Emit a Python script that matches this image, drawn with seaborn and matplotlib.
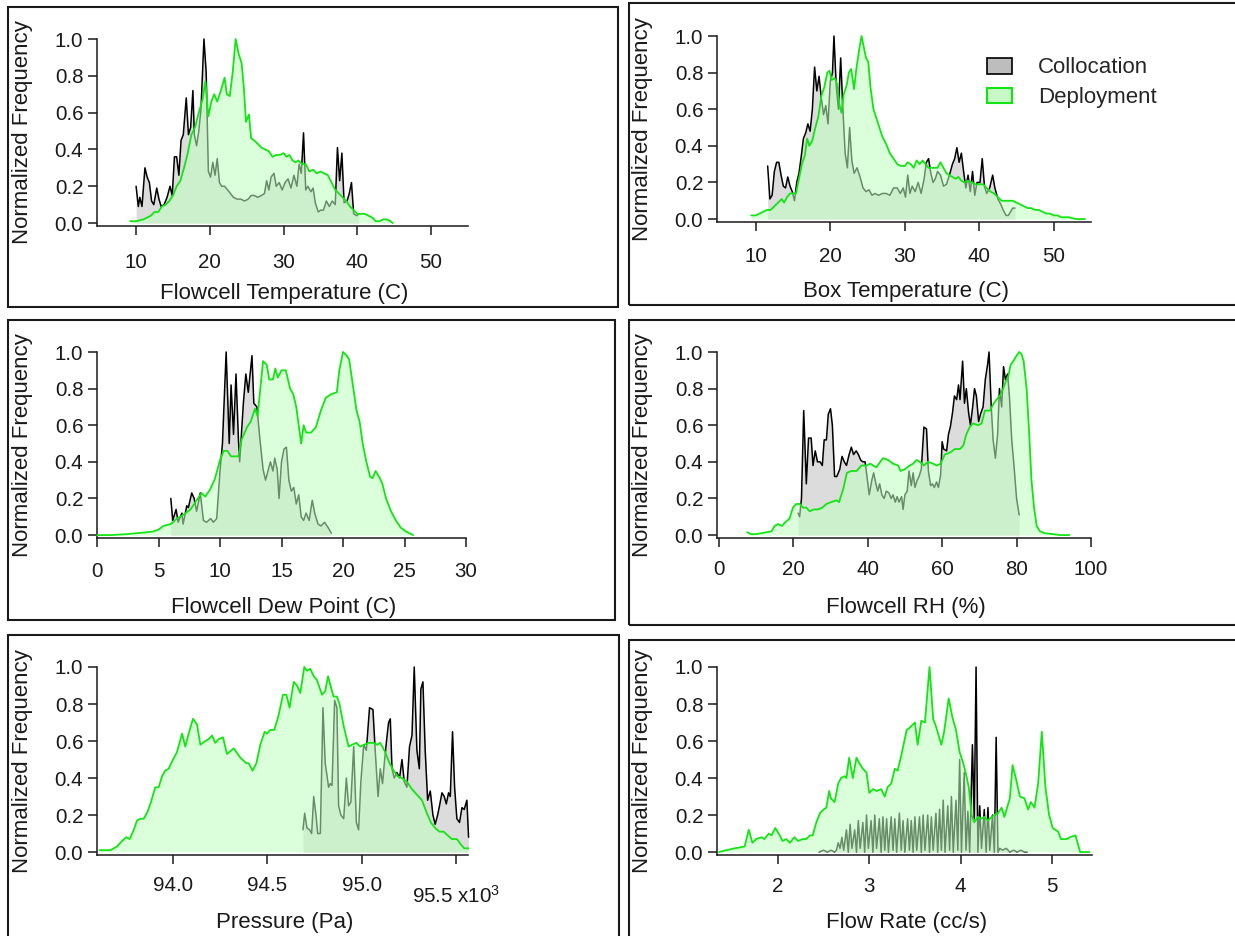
import matplotlib
matplotlib.use("Agg")
import matplotlib.pyplot as plt
from matplotlib.patches import Rectangle, Patch
from matplotlib.transforms import ScaledTranslation
import seaborn as sns

sns.set_theme(style="ticks")
plt.rcParams["font.family"] = ["Liberation Sans", "DejaVu Sans"]
plt.rcParams["mathtext.fontset"] = "custom"
plt.rcParams["mathtext.rm"] = "Liberation Sans"
plt.rcParams["mathtext.it"] = "Liberation Sans:italic"

# ---------------------------------------------------------------------------
# Normalized histograms: (bin value, normalized frequency)
# ---------------------------------------------------------------------------
flowcell_temp_collocation = [
    (10.0, 0.20), (10.3, 0.09), (10.5, 0.14), (10.8, 0.09), (11.2, 0.30), (11.5, 0.25),
    (11.8, 0.22), (12.1, 0.12), (12.4, 0.10), (12.8, 0.19), (13.1, 0.13), (13.4, 0.09),
    (13.8, 0.10), (14.2, 0.14), (14.6, 0.20), (14.9, 0.15), (15.2, 0.36), (15.5, 0.36),
    (15.8, 0.26), (16.1, 0.45), (16.4, 0.48), (16.8, 0.68), (17.1, 0.48), (17.4, 0.52),
    (17.7, 0.72), (17.9, 0.48), (18.2, 0.42), (18.5, 0.50), (18.8, 0.62), (19.2, 1.00),
    (19.5, 0.82), (19.8, 0.28), (20.1, 0.25), (20.4, 0.33), (20.7, 0.26), (21.0, 0.35),
    (21.3, 0.22), (21.6, 0.20), (22.0, 0.20), (22.4, 0.18), (22.8, 0.16), (23.2, 0.14),
    (23.7, 0.13), (24.2, 0.13), (24.7, 0.12), (25.2, 0.13), (25.6, 0.15), (26.0, 0.15),
    (26.5, 0.14), (27.0, 0.15), (27.4, 0.16), (27.7, 0.23), (28.0, 0.18), (28.3, 0.25),
    (28.7, 0.27), (29.0, 0.20), (29.4, 0.22), (29.8, 0.18), (30.2, 0.22), (30.6, 0.24),
    (31.0, 0.19), (31.4, 0.26), (31.8, 0.20), (32.1, 0.32), (32.4, 0.27), (32.7, 0.49),
    (33.0, 0.18), (33.3, 0.20), (33.7, 0.17), (34.0, 0.19), (34.3, 0.11), (34.7, 0.06),
    (35.0, 0.07), (35.4, 0.07), (35.8, 0.12), (36.2, 0.09), (36.6, 0.12), (37.0, 0.10),
    (37.3, 0.41), (37.6, 0.23), (37.9, 0.38), (38.2, 0.11), (38.6, 0.12), (38.9, 0.16),
    (39.2, 0.22), (39.5, 0.05), (39.9, 0.04), (40.2, 0.05),
]
flowcell_temp_deployment = [
    (9.2, 0.01), (10.0, 0.01), (11.0, 0.02), (12.0, 0.04), (12.5, 0.06), (13.0, 0.06),
    (13.5, 0.09), (14.0, 0.10), (14.5, 0.12), (15.0, 0.15), (15.5, 0.20), (16.0, 0.23),
    (16.5, 0.30), (17.0, 0.38), (17.5, 0.48), (18.0, 0.52), (18.5, 0.60), (19.0, 0.67),
    (19.4, 0.77), (19.8, 0.58), (20.2, 0.66), (20.6, 0.70), (21.0, 0.66), (21.5, 0.72),
    (22.0, 0.79), (22.3, 0.70), (22.7, 0.69), (23.1, 0.82), (23.5, 1.00), (23.9, 0.92),
    (24.3, 0.87), (24.6, 0.74), (24.9, 0.55), (25.3, 0.59), (25.6, 0.46), (26.0, 0.45),
    (26.5, 0.43), (27.0, 0.41), (27.5, 0.40), (28.0, 0.39), (28.5, 0.36), (29.0, 0.37),
    (29.5, 0.37), (30.0, 0.38), (30.4, 0.36), (30.8, 0.37), (31.2, 0.34), (31.6, 0.33),
    (32.0, 0.34), (32.5, 0.32), (33.0, 0.32), (33.5, 0.28), (34.0, 0.29), (34.5, 0.27),
    (35.0, 0.28), (35.5, 0.27), (36.0, 0.26), (36.5, 0.22), (37.0, 0.18), (37.5, 0.16),
    (38.0, 0.14), (38.5, 0.12), (39.0, 0.09), (39.5, 0.07), (40.0, 0.05), (40.5, 0.05),
    (41.0, 0.05), (41.5, 0.04), (42.0, 0.03), (42.5, 0.01), (43.0, 0.01), (43.5, 0.02),
    (44.0, 0.02), (44.5, 0.01), (44.8, 0.00),
]

box_temp_collocation = [
    (11.6, 0.29), (11.9, 0.11), (12.2, 0.13), (12.5, 0.26), (12.8, 0.31), (13.1, 0.31),
    (13.4, 0.24), (13.7, 0.18), (14.0, 0.17), (14.3, 0.23), (14.6, 0.18), (14.9, 0.15),
    (15.2, 0.10), (15.5, 0.20), (15.8, 0.25), (16.1, 0.34), (16.4, 0.44), (16.7, 0.47),
    (17.0, 0.52), (17.3, 0.48), (17.6, 0.60), (17.9, 0.83), (18.2, 0.70), (18.5, 0.78),
    (18.8, 0.66), (19.1, 0.57), (19.4, 0.62), (19.7, 0.52), (20.0, 0.75), (20.3, 0.80),
    (20.5, 1.00), (20.8, 0.73), (21.1, 0.60), (21.4, 0.88), (21.7, 0.60), (22.0, 0.36),
    (22.3, 0.28), (22.6, 0.50), (22.9, 0.32), (23.2, 0.25), (23.6, 0.28), (24.0, 0.23),
    (24.4, 0.17), (24.8, 0.15), (25.2, 0.16), (25.6, 0.13), (26.0, 0.14), (26.5, 0.13),
    (27.0, 0.14), (27.5, 0.14), (28.0, 0.13), (28.5, 0.17), (29.0, 0.17), (29.4, 0.14),
    (29.8, 0.17), (30.1, 0.12), (30.4, 0.24), (30.7, 0.14), (31.0, 0.18), (31.4, 0.15),
    (31.8, 0.20), (32.2, 0.14), (32.6, 0.22), (32.9, 0.31), (33.2, 0.33), (33.5, 0.25),
    (33.8, 0.20), (34.1, 0.22), (34.4, 0.26), (34.8, 0.24), (35.2, 0.18), (35.6, 0.19),
    (36.0, 0.24), (36.4, 0.30), (36.7, 0.33), (37.0, 0.39), (37.3, 0.31), (37.6, 0.36),
    (37.9, 0.26), (38.2, 0.17), (38.5, 0.24), (38.8, 0.15), (39.1, 0.26), (39.4, 0.13),
    (39.7, 0.20), (40.1, 0.20), (40.4, 0.33), (40.7, 0.18), (41.0, 0.14), (41.4, 0.17),
    (41.8, 0.24), (42.1, 0.17), (42.5, 0.11), (42.9, 0.08), (43.2, 0.05), (43.6, 0.02),
    (43.9, 0.02), (44.2, 0.04), (44.5, 0.06), (44.8, 0.06),
]
box_temp_deployment = [
    (9.4, 0.02), (10.0, 0.02), (10.5, 0.03), (11.0, 0.04), (11.5, 0.05), (12.0, 0.05),
    (12.5, 0.07), (13.0, 0.09), (13.5, 0.11), (13.8, 0.09), (14.2, 0.12), (14.6, 0.14),
    (15.0, 0.14), (15.4, 0.14), (15.8, 0.22), (16.2, 0.30), (16.6, 0.35), (16.9, 0.44),
    (17.2, 0.40), (17.6, 0.43), (18.0, 0.50), (18.4, 0.56), (18.8, 0.67), (19.2, 0.72),
    (19.6, 0.80), (19.9, 0.81), (20.2, 0.76), (20.6, 0.77), (20.9, 0.74), (21.2, 0.63),
    (21.5, 0.58), (21.8, 0.68), (22.2, 0.73), (22.5, 0.80), (22.8, 0.82), (23.2, 0.71),
    (23.5, 0.82), (23.9, 0.93), (24.2, 1.00), (24.5, 0.94), (24.8, 0.88), (25.1, 0.86),
    (25.4, 0.72), (25.8, 0.60), (26.2, 0.55), (26.6, 0.50), (27.0, 0.45), (27.5, 0.41),
    (28.0, 0.36), (28.5, 0.33), (29.0, 0.30), (29.5, 0.29), (30.0, 0.29), (30.4, 0.31),
    (30.8, 0.30), (31.2, 0.28), (31.6, 0.32), (32.0, 0.30), (32.4, 0.32), (32.8, 0.30),
    (33.2, 0.28), (33.6, 0.28), (34.0, 0.28), (34.4, 0.28), (34.8, 0.31), (35.2, 0.28),
    (35.6, 0.25), (36.0, 0.24), (36.4, 0.23), (36.8, 0.22), (37.2, 0.23), (37.6, 0.21),
    (38.0, 0.20), (38.5, 0.21), (39.0, 0.20), (39.5, 0.19), (40.0, 0.19), (40.5, 0.19),
    (41.0, 0.17), (41.5, 0.15), (42.0, 0.14), (42.5, 0.12), (43.0, 0.10), (43.5, 0.10),
    (44.0, 0.10), (44.5, 0.10), (45.0, 0.09), (45.5, 0.08), (46.0, 0.07), (46.5, 0.06),
    (47.0, 0.06), (47.5, 0.05), (48.0, 0.05), (48.5, 0.04), (49.0, 0.03), (49.5, 0.03),
    (50.0, 0.02), (50.5, 0.02), (51.0, 0.01), (52.0, 0.01), (53.0, 0.00), (54.2, 0.00),
]

dew_point_collocation = [
    (6.0, 0.20), (6.16, 0.08), (6.43, 0.14), (6.6, 0.07), (6.9, 0.12), (7.0, 0.06),
    (7.3, 0.16), (7.43, 0.15), (7.7, 0.23), (7.9, 0.20), (8.1, 0.13), (8.4, 0.23),
    (8.65, 0.08), (8.9, 0.07), (9.25, 0.09), (9.46, 0.07), (9.73, 0.09), (10.0, 0.35),
    (10.2, 0.50), (10.5, 1.00), (10.75, 0.50), (10.9, 0.82), (11.1, 0.55), (11.3, 0.88),
    (11.5, 0.52), (11.6, 0.40), (11.9, 0.72), (12.1, 0.88), (12.3, 0.78), (12.6, 0.98),
    (12.75, 0.72), (13.0, 0.70), (13.25, 0.52), (13.5, 0.36), (13.7, 0.30), (13.9, 0.35),
    (14.1, 0.40), (14.3, 0.35), (14.45, 0.42), (14.65, 0.36), (14.8, 0.20), (15.0, 0.40),
    (15.2, 0.47), (15.4, 0.48), (15.6, 0.30), (15.8, 0.24), (16.0, 0.26), (16.2, 0.17),
    (16.4, 0.22), (16.6, 0.10), (16.8, 0.08), (17.0, 0.12), (17.25, 0.08), (17.5, 0.19),
    (17.7, 0.12), (17.97, 0.06), (18.2, 0.05), (18.5, 0.07), (18.8, 0.04), (19.05, 0.01),
]
dew_point_deployment = [
    (0.0, 0.00), (1.1, 0.00), (2.4, 0.005), (3.2, 0.01), (4.0, 0.015), (4.6, 0.02),
    (5.0, 0.03), (5.4, 0.05), (6.0, 0.06), (6.5, 0.09), (7.0, 0.11), (7.6, 0.14),
    (8.1, 0.19), (8.5, 0.23), (8.8, 0.21), (9.2, 0.25), (9.6, 0.31), (10.0, 0.41),
    (10.3, 0.46), (10.6, 0.46), (10.9, 0.43), (11.2, 0.43), (11.5, 0.43), (11.75, 0.52),
    (12.2, 0.59), (12.5, 0.62), (12.84, 0.69), (13.05, 0.65), (13.25, 0.78), (13.5, 0.95),
    (13.8, 0.93), (14.0, 0.85), (14.3, 0.85), (14.5, 0.91), (14.7, 0.86), (15.0, 0.90),
    (15.35, 0.90), (15.7, 0.80), (15.95, 0.77), (16.2, 0.70), (16.5, 0.55), (16.6, 0.50),
    (16.8, 0.60), (17.0, 0.56), (17.4, 0.56), (17.8, 0.59), (18.2, 0.68), (18.6, 0.75),
    (19.05, 0.77), (19.5, 0.78), (19.7, 0.90), (20.0, 1.00), (20.3, 0.98), (20.5, 0.96),
    (20.8, 0.82), (21.1, 0.68), (21.35, 0.62), (21.6, 0.50), (21.9, 0.40), (22.2, 0.32),
    (22.4, 0.31), (22.65, 0.35), (23.0, 0.31), (23.2, 0.28), (23.5, 0.20), (23.9, 0.13),
    (24.3, 0.08), (24.7, 0.04), (25.1, 0.02), (25.7, 0.00),
]

rh_collocation = [
    (21.3, 0.12), (21.7, 0.10), (22.2, 0.20), (22.8, 0.68), (23.5, 0.28), (24.1, 0.53),
    (24.8, 0.53), (25.3, 0.38), (25.9, 0.46), (26.5, 0.40), (27.2, 0.40), (27.8, 0.38),
    (28.3, 0.52), (28.9, 0.52), (29.4, 0.66), (30.0, 0.69), (30.5, 0.60), (31.1, 0.32),
    (31.7, 0.32), (32.5, 0.36), (33.1, 0.43), (33.7, 0.40), (34.3, 0.38), (35.0, 0.44),
    (35.6, 0.48), (36.2, 0.44), (36.9, 0.46), (37.5, 0.44), (38.1, 0.41), (38.7, 0.40),
    (39.3, 0.40), (39.8, 0.32), (40.4, 0.22), (41.1, 0.30), (41.6, 0.34), (42.2, 0.28),
    (42.7, 0.24), (43.2, 0.28), (43.8, 0.22), (44.4, 0.20), (45.0, 0.24), (45.7, 0.23),
    (46.3, 0.20), (46.8, 0.22), (47.4, 0.18), (47.9, 0.21), (48.4, 0.18), (49.1, 0.21),
    (49.5, 0.14), (50.0, 0.22), (50.6, 0.24), (51.1, 0.35), (51.7, 0.27), (52.2, 0.34),
    (52.7, 0.26), (53.3, 0.30), (53.8, 0.32), (54.4, 0.36), (55.1, 0.59), (55.8, 0.58),
    (56.3, 0.35), (56.9, 0.27), (57.4, 0.28), (57.9, 0.26), (58.5, 0.29), (59.0, 0.26),
    (59.6, 0.33), (60.0, 0.51), (60.4, 0.47), (61.2, 0.46), (61.7, 0.55), (62.2, 0.59),
    (62.8, 0.67), (63.3, 0.76), (63.9, 0.74), (64.4, 0.82), (64.8, 0.74), (65.5, 0.95),
    (66.0, 0.72), (66.5, 0.80), (67.1, 0.67), (67.6, 0.60), (68.2, 0.70), (68.7, 0.80),
    (69.2, 0.76), (69.8, 0.62), (70.3, 0.66), (71.0, 0.70), (71.6, 0.85), (72.2, 0.93),
    (72.6, 1.00), (73.2, 0.70), (73.7, 0.52), (74.3, 0.42), (74.9, 0.55), (75.4, 0.80),
    (76.0, 0.70), (76.5, 0.92), (77.0, 0.85), (77.6, 0.88), (78.1, 0.75), (78.7, 0.52),
    (79.3, 0.38), (80.0, 0.20), (80.7, 0.11),
]
rh_deployment = [
    (7.6, 0.015), (8.7, 0.005), (10.0, 0.005), (11.4, 0.01), (12.7, 0.015), (14.1, 0.02),
    (15.0, 0.05), (15.9, 0.06), (17.0, 0.05), (17.8, 0.07), (19.0, 0.09), (19.9, 0.15),
    (20.8, 0.17), (21.7, 0.17), (22.6, 0.15), (23.5, 0.15), (24.4, 0.13), (25.5, 0.14),
    (26.6, 0.14), (27.8, 0.15), (28.9, 0.17), (30.2, 0.18), (31.6, 0.19), (32.3, 0.18),
    (33.4, 0.25), (34.4, 0.34), (35.6, 0.35), (37.0, 0.35), (38.3, 0.38), (39.6, 0.38),
    (40.7, 0.39), (42.3, 0.37), (44.1, 0.42), (45.5, 0.41), (46.8, 0.39), (48.2, 0.38),
    (48.8, 0.35), (50.0, 0.36), (51.3, 0.38), (52.2, 0.39), (53.1, 0.41), (54.0, 0.40),
    (55.1, 0.38), (56.2, 0.40), (57.6, 0.39), (58.5, 0.38), (59.6, 0.39), (60.7, 0.44),
    (62.1, 0.45), (63.4, 0.47), (64.8, 0.47), (65.7, 0.49), (66.5, 0.55), (67.4, 0.59),
    (68.3, 0.61), (69.7, 0.60), (70.6, 0.61), (71.5, 0.68), (72.8, 0.68), (73.9, 0.72),
    (74.6, 0.74), (75.5, 0.76), (76.4, 0.80), (77.1, 0.84), (77.8, 0.87), (78.4, 0.93),
    (79.1, 0.95), (80.0, 0.98), (80.7, 1.00), (81.3, 0.99), (81.9, 0.95), (82.7, 0.80),
    (83.4, 0.55), (84.0, 0.30), (84.7, 0.15), (85.4, 0.05), (86.3, 0.02), (87.6, 0.01),
    (89.9, 0.005), (91.7, 0.00), (94.2, 0.00),
]

pressure_collocation = [
    (94689, 0.12), (94698, 0.21), (94710, 0.13), (94724, 0.12), (94735, 0.10), (94746, 0.30),
    (94758, 0.20), (94767, 0.10), (94781, 0.10), (94795, 0.78), (94807, 0.48), (94825, 0.35),
    (94834, 0.37), (94843, 0.36), (94857, 0.82), (94869, 0.78), (94878, 0.25), (94890, 0.20),
    (94905, 0.18), (94919, 0.40), (94931, 0.25), (94943, 0.27), (94958, 0.57), (94972, 0.16),
    (94984, 0.12), (94996, 0.38), (95011, 0.58), (95025, 0.55), (95042, 0.78), (95060, 0.77),
    (95072, 0.55), (95087, 0.30), (95099, 0.45), (95111, 0.37), (95122, 0.50), (95134, 0.62),
    (95143, 0.70), (95152, 0.72), (95161, 0.45), (95173, 0.40), (95187, 0.43), (95201, 0.40),
    (95214, 0.50), (95226, 0.38), (95240, 0.35), (95254, 0.57), (95267, 0.63), (95279, 1.00),
    (95293, 0.55), (95306, 0.45), (95314, 0.88), (95325, 0.92), (95337, 0.55), (95350, 0.28),
    (95364, 0.33), (95378, 0.20), (95390, 0.15), (95403, 0.20), (95413, 0.25), (95426, 0.32),
    (95438, 0.30), (95449, 0.26), (95461, 0.32), (95470, 0.30), (95482, 0.65), (95493, 0.35),
    (95505, 0.18), (95519, 0.16), (95532, 0.24), (95544, 0.23), (95558, 0.28), (95567, 0.08),
]
pressure_deployment = [
    (93611, 0.01), (93668, 0.01), (93703, 0.03), (93730, 0.06), (93753, 0.08), (93770, 0.07),
    (93792, 0.12), (93809, 0.17), (93827, 0.18), (93845, 0.18), (93866, 0.22), (93883, 0.27),
    (93906, 0.35), (93924, 0.35), (93942, 0.41), (93959, 0.44), (93977, 0.45), (93995, 0.49),
    (94021, 0.54), (94048, 0.64), (94065, 0.57), (94083, 0.64), (94106, 0.72), (94127, 0.69),
    (94145, 0.58), (94171, 0.60), (94189, 0.61), (94207, 0.63), (94224, 0.59), (94242, 0.61),
    (94265, 0.62), (94286, 0.53), (94322, 0.56), (94357, 0.51), (94389, 0.48), (94401, 0.48),
    (94422, 0.44), (94442, 0.48), (94463, 0.58), (94486, 0.65), (94498, 0.64), (94516, 0.66),
    (94537, 0.66), (94560, 0.74), (94583, 0.85), (94601, 0.85), (94618, 0.78), (94640, 0.92),
    (94657, 0.90), (94675, 0.86), (94696, 1.00), (94710, 0.98), (94728, 0.99), (94746, 0.95),
    (94763, 0.93), (94790, 0.85), (94807, 0.87), (94822, 0.95), (94843, 0.87), (94852, 0.84),
    (94869, 0.84), (94883, 0.80), (94905, 0.68), (94931, 0.57), (94949, 0.58), (94972, 0.59),
    (94993, 0.57), (95014, 0.58), (95037, 0.59), (95064, 0.59), (95081, 0.58), (95099, 0.59),
    (95125, 0.54), (95148, 0.48), (95170, 0.44), (95191, 0.41), (95214, 0.40), (95240, 0.38),
    (95267, 0.34), (95293, 0.31), (95320, 0.28), (95346, 0.21), (95367, 0.16), (95390, 0.13),
    (95413, 0.11), (95435, 0.11), (95456, 0.09), (95479, 0.07), (95505, 0.07), (95527, 0.04),
    (95544, 0.02), (95567, 0.02),
]

flow_collocation = [
    (2.45, 0.00), (2.50, 0.01), (2.54, 0.00), (2.58, 0.01), (2.62, 0.00), (2.64, 0.01),
    (2.66, 0.05), (2.68, 0.02), (2.70, 0.08), (2.72, 0.01), (2.75, 0.12), (2.77, 0.00),
    (2.79, 0.15), (2.81, 0.02), (2.84, 0.12), (2.86, 0.00), (2.88, 0.17), (2.90, 0.02),
    (2.93, 0.16), (2.95, 0.00), (2.97, 0.20), (2.99, 0.02), (3.02, 0.17), (3.04, 0.00),
    (3.06, 0.20), (3.08, 0.02), (3.11, 0.18), (3.13, 0.00), (3.15, 0.19), (3.17, 0.01),
    (3.19, 0.18), (3.21, 0.00), (3.24, 0.19), (3.26, 0.01), (3.28, 0.18), (3.30, 0.00),
    (3.33, 0.21), (3.35, 0.01), (3.37, 0.17), (3.39, 0.00), (3.42, 0.18), (3.44, 0.01),
    (3.46, 0.17), (3.48, 0.00), (3.50, 0.19), (3.52, 0.01), (3.55, 0.19), (3.57, 0.00),
    (3.59, 0.20), (3.61, 0.01), (3.64, 0.20), (3.66, 0.00), (3.68, 0.19), (3.70, 0.01),
    (3.73, 0.21), (3.75, 0.00), (3.77, 0.23), (3.79, 0.01), (3.81, 0.28), (3.83, 0.00),
    (3.86, 0.25), (3.88, 0.01), (3.90, 0.30), (3.92, 0.00), (3.95, 0.28), (3.97, 0.01),
    (3.99, 0.50), (4.01, 0.00), (4.04, 0.43), (4.06, 0.01), (4.08, 0.22), (4.10, 0.00),
    (4.13, 0.58), (4.15, 0.18), (4.17, 1.00), (4.19, 0.00), (4.21, 0.25), (4.23, 0.02),
    (4.26, 0.23), (4.28, 0.00), (4.30, 0.24), (4.32, 0.01), (4.35, 0.20), (4.37, 0.00),
    (4.39, 0.62), (4.41, 0.00), (4.43, 0.02), (4.46, 0.01), (4.50, 0.02), (4.54, 0.00),
    (4.58, 0.01), (4.62, 0.00), (4.66, 0.01), (4.70, 0.00), (4.73, 0.00),
]
flow_deployment = [
    (1.354, 0.00), (1.434, 0.01), (1.526, 0.02), (1.58, 0.025), (1.635, 0.03), (1.68, 0.12),
    (1.72, 0.05), (1.76, 0.07), (1.82, 0.08), (1.85, 0.07), (1.90, 0.10), (1.93, 0.09),
    (1.97, 0.13), (2.02, 0.09), (2.05, 0.06), (2.09, 0.07), (2.13, 0.05), (2.18, 0.08),
    (2.22, 0.06), (2.27, 0.07), (2.31, 0.07), (2.35, 0.09), (2.38, 0.09), (2.42, 0.16),
    (2.46, 0.21), (2.50, 0.23), (2.53, 0.24), (2.56, 0.33), (2.58, 0.29), (2.62, 0.27),
    (2.66, 0.37), (2.69, 0.40), (2.73, 0.41), (2.75, 0.40), (2.78, 0.51), (2.82, 0.40),
    (2.86, 0.51), (2.89, 0.48), (2.93, 0.45), (2.97, 0.43), (3.00, 0.32), (3.04, 0.34),
    (3.08, 0.33), (3.13, 0.34), (3.17, 0.30), (3.20, 0.35), (3.24, 0.37), (3.28, 0.45),
    (3.31, 0.44), (3.35, 0.52), (3.41, 0.66), (3.44, 0.67), (3.50, 0.70), (3.53, 0.58),
    (3.57, 0.71), (3.61, 0.70), (3.66, 1.00), (3.70, 0.72), (3.73, 0.68), (3.79, 0.58),
    (3.82, 0.65), (3.87, 0.83), (3.91, 0.73), (3.95, 0.66), (3.99, 0.54), (4.03, 0.48),
    (4.06, 0.42), (4.09, 0.35), (4.12, 0.20), (4.15, 0.16), (4.19, 0.19), (4.23, 0.18),
    (4.26, 0.19), (4.30, 0.17), (4.34, 0.19), (4.37, 0.20), (4.41, 0.21), (4.45, 0.24),
    (4.48, 0.19), (4.54, 0.29), (4.57, 0.47), (4.61, 0.39), (4.65, 0.30), (4.70, 0.29),
    (4.74, 0.23), (4.77, 0.27), (4.81, 0.24), (4.85, 0.37), (4.89, 0.65), (4.93, 0.35),
    (4.97, 0.20), (5.01, 0.13), (5.07, 0.11), (5.10, 0.07), (5.16, 0.07), (5.20, 0.08),
    (5.26, 0.09), (5.31, 0.00), (5.41, 0.00),
]

y_ticks = [0.0, 0.2, 0.4, 0.6, 0.8, 1.0]
y_label = "Normalized Frequency"
series_names = ["Collocation", "Deployment"]

# ---------------------------------------------------------------------------
# Styling
# ---------------------------------------------------------------------------
W, H = 1235, 936
INK = "#1a1a1a"
GREEN = "#12e612"
GRAY_FILL = "#dcdcdc"
GREEN_FILL = "#bfffbf"
TICK_FS = 14.8
LABEL_FS = 16

fig = plt.figure(figsize=(W / 100, H / 100), dpi=100)

# Each panel: axes rectangle in pixels (left, top, right, bottom), outer frame box,
# x limits, ticks, tick labels, axis title, tick label pad and label baseline.
panels = [
    dict(rect=(97, 39, 468, 226), frame=(8, 7, 618, 307), xlim=(4.7, 55.0),
         xticks=[10, 20, 30, 40, 50], xlabels=["10", "20", "30", "40", "50"],
         title="Flowcell Temperature (C)", pad=13.5, base=299,
         col=flowcell_temp_collocation, dep=flowcell_temp_deployment),
    dict(rect=(717, 36, 1091, 222), frame=(629, 3, 1245, 305), xlim=(4.8, 55.0),
         xticks=[10, 20, 30, 40, 50], xlabels=["10", "20", "30", "40", "50"],
         title="Box Temperature (C)", pad=12.0, base=297,
         col=box_temp_collocation, dep=box_temp_deployment),
    dict(rect=(97, 352, 466, 538), frame=(8, 320, 615, 620), xlim=(0.0, 30.0),
         xticks=[0, 5, 10, 15, 20, 25, 30], xlabels=["0", "5", "10", "15", "20", "25", "30"],
         title="Flowcell Dew Point (C)", pad=10.8, base=613,
         col=dew_point_collocation, dep=dew_point_deployment),
    dict(rect=(717, 352, 1091, 538), frame=(629, 320, 1245, 625), xlim=(-0.5, 100.0),
         xticks=[0, 20, 40, 60, 80, 100], xlabels=["0", "20", "40", "60", "80", "100"],
         title="Flowcell RH (%)", pad=9.6, base=613,
         col=rh_collocation, dep=rh_deployment),
    dict(rect=(97, 667, 468, 855), frame=(8, 635, 619, 945), xlim=(93597, 95564),
         xticks=[94000, 94500, 95000, 95500],
         xlabels=["94.0", "94.5", "95.0", "95.5 x10$^3$"],
         title="Pressure (Pa)", pad=9.1, base=928,
         col=pressure_collocation, dep=pressure_deployment),
    dict(rect=(717, 667, 1092, 855), frame=(629, 640, 1245, 945), xlim=(1.332, 5.44),
         xticks=[2, 3, 4, 5], xlabels=["2", "3", "4", "5"],
         title="Flow Rate (cc/s)", pad=9.6, base=928,
         col=flow_collocation, dep=flow_deployment),
]

for i, p in enumerate(panels):
    l, t, r, b = p["rect"]
    ax = fig.add_axes([l / W, 1 - b / H, (r - l) / W, (b - t) / H])
    ax.set_facecolor("none")

    cx = [v[0] for v in p["col"]]
    cy = [v[1] for v in p["col"]]
    dx = [v[0] for v in p["dep"]]
    dy = [v[1] for v in p["dep"]]

    ax.fill_between(cx, cy, 0, color=GRAY_FILL, lw=0, zorder=1)
    sns.lineplot(x=cx, y=cy, ax=ax, color="black", lw=1.1, estimator=None,
                 sort=False, zorder=2, clip_on=False)
    ax.fill_between(dx, dy, 0, color=GREEN_FILL, alpha=0.55, lw=0, zorder=3)
    sns.lineplot(x=dx, y=dy, ax=ax, color=GREEN, lw=1.3, estimator=None,
                 sort=False, zorder=4, clip_on=False)

    ax.set_xlim(*p["xlim"])
    ax.set_ylim(-0.016, 1.0)
    ax.set_xticks(p["xticks"])
    ax.set_xticklabels(p["xlabels"])
    ax.set_yticks(y_ticks)
    ax.set_yticklabels([f"{v:.1f}" for v in y_ticks])

    for side in ("top", "right"):
        ax.spines[side].set_visible(False)
    for side in ("left", "bottom"):
        ax.spines[side].set_linewidth(1.1)
        ax.spines[side].set_color(INK)

    ax.tick_params(axis="both", direction="out", length=6.3, width=1.1,
                   color=INK, labelcolor=INK, labelsize=TICK_FS)
    ax.tick_params(axis="y", pad=3.6)
    ax.tick_params(axis="x", pad=p["pad"])

    # the exponent-bearing last pressure label sits a little lower
    if "$" in p["xlabels"][-1]:
        last = ax.xaxis.get_major_ticks()[-1].label1
        last.set_transform(last.get_transform()
                           + ScaledTranslation(0, -6 / 72, fig.dpi_scale_trans))

    ax.set_ylabel(y_label, fontsize=LABEL_FS, color=INK)
    ax.yaxis.set_label_coords(-64 / (r - l), 0.5)
    ax.set_xlabel(p["title"], fontsize=LABEL_FS, color=INK)
    ax.xaxis.label.set_va("baseline")
    ax.xaxis.set_label_coords(0.505, -(p["base"] - b) / (b - t))

    if i == 1:
        handles = [
            Patch(facecolor="#bdbdbd", edgecolor="black", lw=1.2, label=series_names[0]),
            Patch(facecolor="#c8f8c8", edgecolor=GREEN, lw=1.5, label=series_names[1]),
        ]
        ax.legend(handles=handles, loc="upper left", bbox_to_anchor=(0.722, 0.885),
                  frameon=False, fontsize=LABEL_FS, borderpad=0, borderaxespad=0,
                  handlelength=1.13, handleheight=0.72, handletextpad=1.17,
                  labelspacing=0.4)

    fl, ft, fr, fb = p["frame"]
    fig.add_artist(Rectangle((fl / W, 1 - fb / H), (fr - fl) / W, (fb - ft) / H,
                             transform=fig.transFigure, fill=False, lw=1.5,
                             ec=INK, zorder=10))

fig.savefig("out.png", dpi=100)
